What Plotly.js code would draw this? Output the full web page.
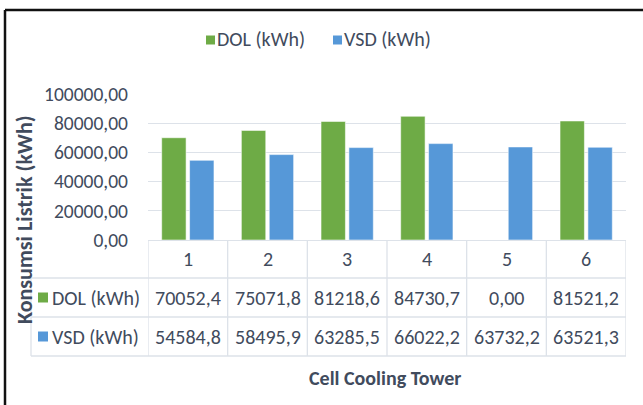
<!DOCTYPE html>
<html>
<head>
<meta charset="utf-8">
<script src="https://cdn.plot.ly/plotly-3.0.1.min.js"></script>
<style>
html,body{margin:0;padding:0;background:#fff;overflow:hidden;}
#chart{width:643px;height:405px;}
</style>
</head>
<body>
<div id="chart"></div>
<script>
// ---- data ----
const categories = ['1', '2', '3', '4', '5', '6'];
const dolValues = [70052.4, 75071.8, 81218.6, 84730.7, 0, 81521.2];
const vsdValues = [54584.8, 58495.9, 63285.5, 66022.2, 63732.2, 63521.3];
const seriesNames = ['DOL (kWh)', 'VSD (kWh)'];
const yTickVals = [0, 20000, 40000, 60000, 80000, 100000];
const yTitle = 'Konsumsi Listrik (kWh)';
const xTitle = 'Cell Cooling Tower';

// ---- style / layout geometry ----
const W = 643, H = 405;
const plotLeft = 148, plotRight = 626, plotTop = 94, plotBottom = 240;
const FONT = "Carlito, Lato, 'Open Sans', sans-serif";
const TXT = '#414b5d';
const GRID = '#dde2e9';
const GREEN = '#6eab46';
const BLUE = '#5698d8';
const FS = 20;
const px = v => (v - plotLeft) / (plotRight - plotLeft);
const py = v => (plotBottom - v) / (plotBottom - plotTop);

function fmt(v) {
  if (v === 0) return '0,00';
  return v.toFixed(1).replace('.', ',');
}

const traces = [
  { type: 'bar', name: seriesNames[0], x: categories, y: dolValues,
    marker: { color: GREEN, line: { color: 'rgba(255,255,255,0.55)', width: 1 } },
    hoverinfo: 'skip' },
  { type: 'bar', name: seriesNames[1], x: categories, y: vsdValues,
    marker: { color: BLUE, line: { color: 'rgba(255,255,255,0.55)', width: 1 } },
    hoverinfo: 'skip' }
];

const rowLines = [278, 317, 356];
const rowCenters = [259, 297.5, 336.5];
const shapes = [];
const annotations = [];
const txt = (o) => Object.assign({ showarrow: false, xanchor: 'center', yanchor: 'middle',
  font: { family: FONT, size: FS, color: TXT } }, o);

// outer frame (top and left edges; right/bottom lie outside the picture)
shapes.push({ type: 'line', xref: 'paper', yref: 'paper',
  x0: px(5), x1: px(W + 20), y0: py(10), y1: py(10), line: { color: '#111', width: 2.5 } });
shapes.push({ type: 'line', xref: 'paper', yref: 'paper',
  x0: px(5), x1: px(5), y0: py(10), y1: py(H + 20), line: { color: '#111', width: 2.5 } });

// table horizontal lines
rowLines.forEach(yy => shapes.push({ type: 'line', xref: 'paper', yref: 'paper',
  x0: px(31), x1: 1, y0: py(yy), y1: py(yy), line: { color: GRID, width: 1.3 } }));
// table vertical lines at category boundaries
for (let i = 0; i <= categories.length; i++) {
  shapes.push({ type: 'line', xref: 'x', yref: 'paper',
    x0: i - 0.5, x1: i - 0.5, y0: py(plotBottom), y1: py(356), line: { color: GRID, width: 1.3 } });
}
// left edge of legend column
shapes.push({ type: 'line', xref: 'paper', yref: 'paper',
  x0: px(31), x1: px(31), y0: py(278), y1: py(356), line: { color: GRID, width: 1.3 } });

// header row: category labels
categories.forEach((c, i) => annotations.push(txt({ xref: 'x', yref: 'paper', x: i, y: py(rowCenters[0]), text: c })));
// value rows
[dolValues, vsdValues].forEach((vals, r) => {
  vals.forEach((v, i) => annotations.push(txt({ xref: 'x', yref: 'paper', x: i, y: py(rowCenters[r + 1]), text: fmt(v) })));
});
// row legend keys
[GREEN, BLUE].forEach((col, r) => {
  const cy = rowCenters[r + 1];
  shapes.push({ type: 'rect', xref: 'paper', yref: 'paper',
    x0: px(38), x1: px(48), y0: py(cy - 5), y1: py(cy + 5), fillcolor: col, line: { width: 0 } });
  annotations.push(txt({ xref: 'paper', yref: 'paper', x: px(50), y: py(cy), xanchor: 'left', text: seriesNames[r] }));
});

// top legend
[GREEN, BLUE].forEach((col, r) => {
  const it = [{ sx: 206, tx: 215 }, { sx: 333, tx: 342 }][r];
  shapes.push({ type: 'rect', xref: 'paper', yref: 'paper',
    x0: px(it.sx), x1: px(it.sx + 9), y0: py(40 - 4.5), y1: py(40 + 4.5), fillcolor: col, line: { width: 0 } });
  annotations.push(txt({ xref: 'paper', yref: 'paper', x: px(it.tx), y: py(39), xanchor: 'left', text: seriesNames[r] }));
});

// axis titles
annotations.push(txt({ xref: 'paper', yref: 'paper', x: px(24), y: py(220), textangle: -90,
  text: '<b>' + yTitle + '</b>', font: { family: FONT, size: 22, color: TXT } }));
annotations.push(txt({ xref: 'paper', yref: 'paper', x: px(385), y: py(378),
  text: '<b>' + xTitle + '</b>', font: { family: FONT, size: 20, color: TXT } }));

const layout = {
  width: W, height: H,
  margin: { l: plotLeft, r: W - plotRight, t: plotTop, b: H - plotBottom },
  paper_bgcolor: '#fff', plot_bgcolor: '#fff',
  separators: ',.',
  showlegend: false,
  barmode: 'group', bargap: 0.3, bargroupgap: 0.125,
  font: { family: FONT, size: FS, color: TXT },
  xaxis: { type: 'category', range: [-0.5, 5.5], showticklabels: false, ticks: '',
    showgrid: false, zeroline: false, showline: true, linecolor: GRID, linewidth: 1.3, fixedrange: true },
  yaxis: { range: [0, 100000], tickvals: yTickVals, tickformat: '.2f', ticks: '',
    ticklabelstandoff: 19, showgrid: true, gridcolor: GRID, gridwidth: 1.3, zeroline: false,
    showline: false, tickfont: { family: FONT, size: 19.5, color: TXT }, fixedrange: true },
  shapes: shapes,
  annotations: annotations
};

Plotly.newPlot('chart', traces, layout, { displayModeBar: false, staticPlot: true });
</script>
</body>
</html>
